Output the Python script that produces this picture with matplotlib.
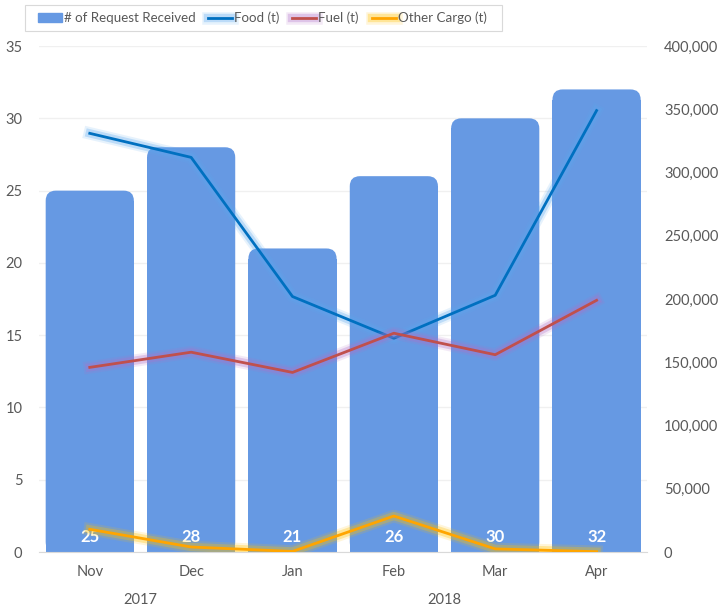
import matplotlib
matplotlib.use("Agg")
import matplotlib.pyplot as plt
import matplotlib.patheffects as pe
from matplotlib.patches import FancyBboxPatch, Patch, Rectangle
from matplotlib.ticker import FuncFormatter, MultipleLocator
import numpy as np

# data
months = ["Nov", "Dec", "Jan", "Feb", "Mar", "Apr"]
years = ["2017", "2018"]
year_span = [(0, 1), (2, 5)]
requests = [25, 28, 21, 26, 30, 32]
food = [331000, 312000, 202000, 169000, 203000, 349000]
fuel = [146000, 158000, 142000, 173000, 156000, 199000]
other = [18000, 4000, 500, 28500, 2500, 300]

plt.rcParams['font.family'] = ['Lato', 'DejaVu Sans']
txt = '#595959'
W, H = 724, 606

fig = plt.figure(figsize=(7.24, 6.06), dpi=100)
ax = fig.add_axes([0.054, 0.089, 0.840, 0.835])
ax2 = ax.twinx()

x = np.arange(len(months))
bw = 0.87
bar_c = '#6699E3'
r_y = 0.7  # rounded corner height in data units
ax.bar(x, np.array(requests) - r_y, width=bw, color=bar_c, zorder=2)
for xi, h in zip(x, requests):
    ax.add_patch(FancyBboxPatch((xi - bw / 2, 0), bw, h,
                                boxstyle="round,pad=0,rounding_size=0.1",
                                mutation_aspect=7.0, fc=bar_c, ec='none', zorder=2))
    ax.text(xi, 1.05, str(h), color='white', fontsize=12, fontweight='bold',
            ha='center', va='center', zorder=3)

ax.set_xlim(-0.5, 5.5)
ax.set_ylim(0, 35)
ax.yaxis.set_major_locator(MultipleLocator(5))
ax.grid(axis='y', color='#F0F0F0', lw=1, zorder=0)
ax.set_axisbelow(True)
for s in ['top', 'right', 'left']:
    ax.spines[s].set_visible(False)
ax.spines['bottom'].set_color('#D9D9D9')
ax.set_xticks(x)
ax.set_xticklabels(months)
ax.tick_params(axis='both', length=0, colors=txt, labelsize=10.5)
ax.tick_params(axis='x', pad=9)
ax.tick_params(axis='y', pad=12)

for name, (a, b) in zip(years, year_span):
    ax.text((a + b) / 2, -0.095, name, transform=ax.get_xaxis_transform(),
            ha='center', va='center', color=txt, fontsize=10.5)

ax2.set_ylim(0, 400000)
ax2.yaxis.set_major_locator(MultipleLocator(50000))
ax2.yaxis.set_major_formatter(FuncFormatter(lambda v, p: f"{int(v):,}"))
ax2.tick_params(axis='y', length=0, colors=txt, labelsize=10.5, pad=12)
for s in ax2.spines.values():
    s.set_visible(False)


def glow(color):
    return [pe.Stroke(linewidth=9, foreground=color, alpha=0.15),
            pe.Stroke(linewidth=6, foreground=color, alpha=0.3),
            pe.Normal()]


l1, = ax2.plot(x, food, color='#0070C0', lw=2, label='Food (t)',
               path_effects=glow('#5BA8F0'), zorder=4)
l2, = ax2.plot(x, fuel, color='#C0504D', lw=2, label='Fuel (t)',
               path_effects=glow('#B070C8'), zorder=4)
l3, = ax2.plot(x, other, color='#FFA500', lw=2, label='Other Cargo (t)',
               path_effects=glow('#FFC000'), zorder=4)

# legend box drawn separately so the padding can match
fig.patches.append(Rectangle((25 / W, 1 - 31 / H), 477 / W, 26 / H,
                             transform=fig.transFigure, fc='white',
                             ec='#D9D9D9', lw=0.8))
h0 = Patch(color=bar_c, label='# of Request Received')
leg = fig.legend(handles=[h0, l1, l2, l3], loc='center left',
                 bbox_to_anchor=(38 / W, 1 - 18 / H), ncol=4, frameon=False,
                 fontsize=9.6, handlelength=1.8, handletextpad=0.15,
                 columnspacing=0.95, borderpad=0, borderaxespad=0)
for t in leg.get_texts():
    t.set_color(txt)

fig.savefig("out.png", dpi=100)
